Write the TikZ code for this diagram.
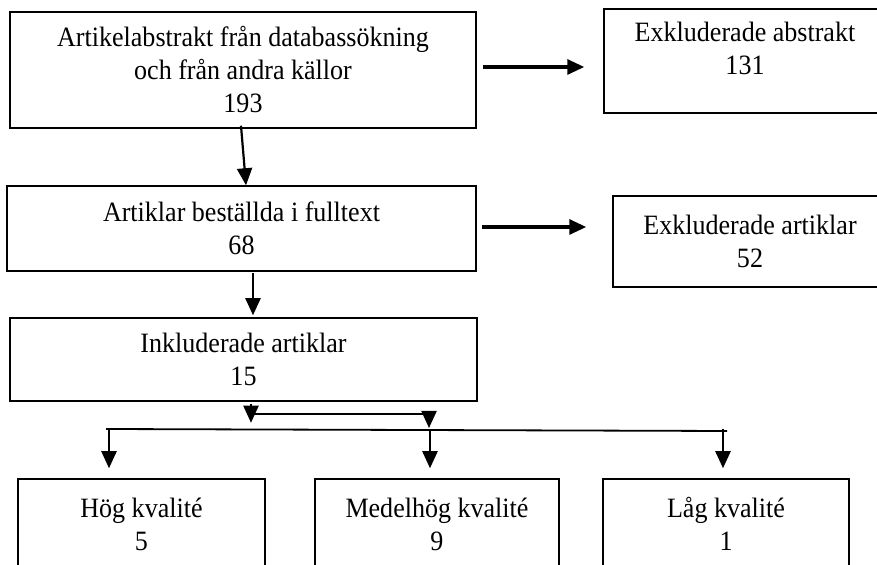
\documentclass[tikz,border=0pt]{standalone}
\usepackage{fontspec}
\setmainfont{Liberation Serif}[FakeStretch=0.93]
\usetikzlibrary{calc}
\usetikzlibrary{arrows.meta}

\begin{document}
\begin{tikzpicture}[x=0.5pt, y=-0.5pt,
  box/.style={draw, line width=0.75pt, align=center, inner sep=0pt,
    font=\fontsize{14}{16.5}\selectfont},
  arr/.style={line width=1.1pt, -{Triangle[length=8.5pt,width=7.5pt]}},
  wide/.style={line width=1.6pt, -{Triangle[length=8.5pt,width=7.5pt]}}]
  \useasboundingbox (0,0) rectangle (877,565);

  % boxes
  \node[box, minimum width=233pt, minimum height=58pt] (abstrakt) at (243,70)
    {Artikelabstrakt från databassökning\\och från andra källor\\193};
  \node[box, minimum width=141pt, minimum height=52pt] (exklAbs) at (745,61)
    {Exkluderade abstrakt\\131\\[-3.5pt]\mbox{}};
  \node[box, minimum width=234.5pt, minimum height=42.5pt] (fulltext) at (241.5,228.5)
    {Artiklar beställda i fulltext\\68};
  \node[box, minimum width=137pt, minimum height=45.5pt] (exklArt) at (750,241.5)
    {Exkluderade artiklar\\52};
  \node[box, minimum width=233.5pt, minimum height=41.5pt] (inkl) at (243.5,359.5)
    {Inkluderade artiklar\\15};
  \node[box, minimum width=123.5pt, minimum height=45pt] (hog) at (141.5,524)
    {Hög kvalité\\5};
  \node[box, minimum width=122pt, minimum height=45pt] (medel) at (437,524)
    {Medelhög kvalité\\9};
  \node[box, minimum width=123pt, minimum height=45pt] (lag) at (726,524)
    {Låg kvalité\\1};

  % arrows
  \draw[wide] ($(abstrakt.east)+(6,-3)$) -- ($(exklAbs.west)+(-19,6)$);
  \draw[arr] ($(abstrakt.south)+(-2,-3)$) -- ($(fulltext.north)+(4.5,0)$);
  \draw[wide] ($(fulltext.east)+(5,-1.5)$) -- ($(exklArt.west)+(-26,-14.5)$);
  \draw[arr] ($(fulltext.south)+(11.5,1)$) -- ($(inkl.north)+(9.5,-2)$);

  % split below
  \coordinate (stubL) at (251,414);
  \coordinate (stubR) at (429,414);
  \coordinate (busL) at (106,429);
  \coordinate (busR) at (727,431);
  \draw[arr] ($(inkl.south)+(7.5,2)$) -- ($(inkl.south)+(7.5,21)$);
  \draw[line width=0.6pt] (stubL) -- (stubR);
  \draw[arr] (stubR) -- ++(0,14);
  \draw[line width=0.9pt] (busL) -- (busR);
  \foreach \n/\dx in {hog/-32.5,medel/-7,lag/-3}{%
    \draw[arr] ($(\n.north)+(\dx,-49)$) -- ($(\n.north)+(\dx,-10)$);
  }
\end{tikzpicture}
\end{document}
